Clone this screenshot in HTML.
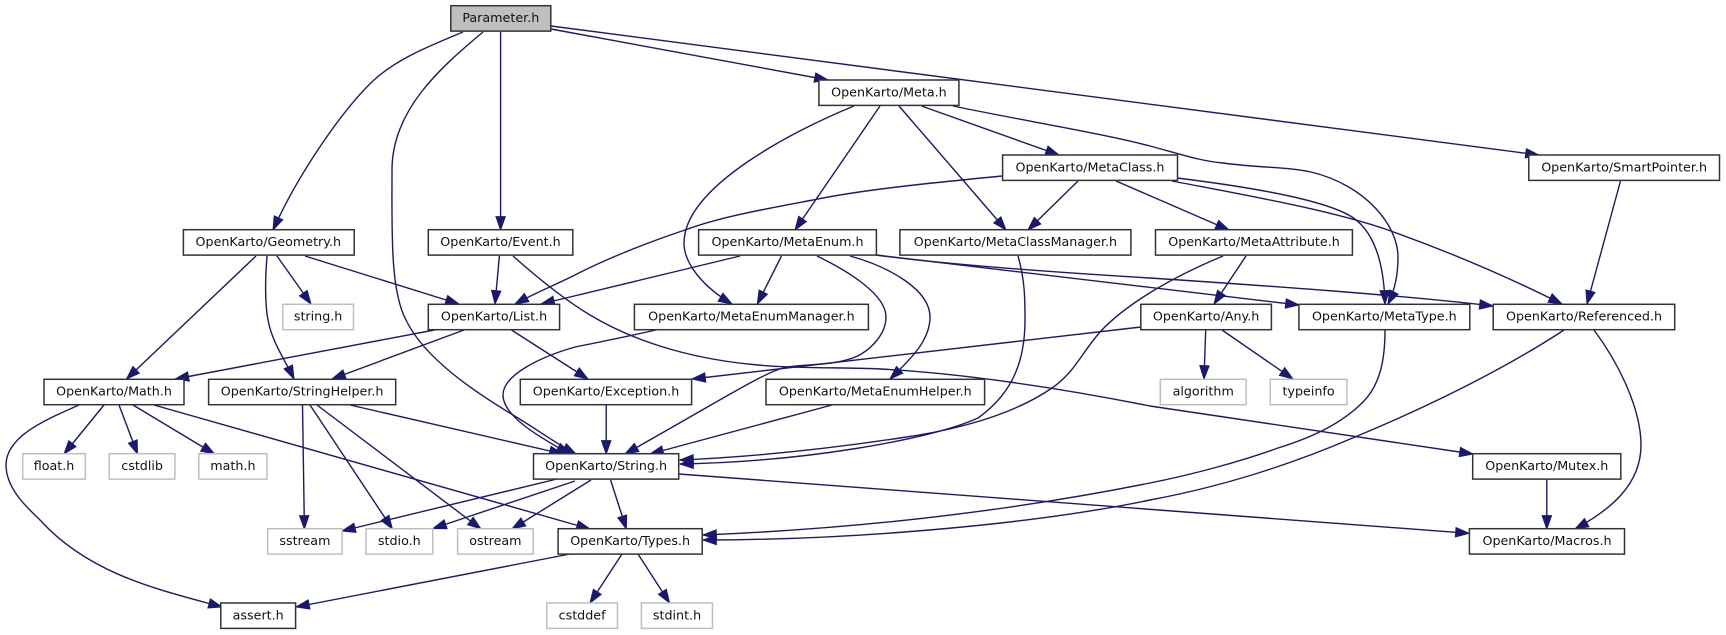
<!DOCTYPE html>
<html><head><meta charset="utf-8"><title>Parameter.h</title>
<style>html,body{margin:0;padding:0;background:#fff}svg{display:block;filter:blur(.3px)}
text{font-family:"DejaVu Sans",sans-serif;font-size:12.7px;text-anchor:middle;fill:#111;transform:translateY(-.7px)}
.e path{fill:none;stroke:#191970;stroke-width:1.4;marker-end:url(#a)}
.n rect{fill:#fff;stroke:#333;stroke-width:1.5}
.g rect{fill:#fff;stroke:#bfbfbf;stroke-width:1.5}
.r rect{fill:#bfbfbf;stroke:#333;stroke-width:1.5}
</style></head><body>
<svg width="1726" height="635" viewBox="0 0 1726 635" xmlns="http://www.w3.org/2000/svg">
<defs><marker id="a" markerUnits="userSpaceOnUse" markerWidth="16" markerHeight="12" refX="13.33" refY="5.5" orient="auto" overflow="visible"><polygon points="0,0.83 13.33,5.5 0,10.17" fill="#191970" stroke="#191970" stroke-width="1"/></marker></defs>
<g class="e">
<path d="M463,32 C432,45 398,58 374,80 C345,107 300,170 273,230"/>
<path d="M483,32 C440,68 392,110 392,170 C392,230 390,290 406,320 C425,360 480,395 513,415 C535,428 555,443 576,454"/>
<path d="M500.6,32 L500.6,230"/>
<path d="M551,29 L828,80"/>
<path d="M551,26 L1539,155"/>
<path d="M256,256 L126.5,379"/>
<path d="M267,256 C265,280 265,305 268,320 C272,342 285,360 294,379"/>
<path d="M277,256 L311,304"/>
<path d="M305,256 L459,304"/>
<path d="M499.4,256 L495,304"/>
<path d="M513,256 C540,280 565,300 590,315 C640,345 700,360 758,365 C800,369 850,367 880,369 C960,373 1060,388 1150,406 L1473,454"/>
<path d="M434.5,330 L175.3,379"/>
<path d="M464,330 L332,379"/>
<path d="M511.5,330 L588,379"/>
<path d="M854,106 C800,128 684,185 684,243 C684,265 705,288 732,304"/>
<path d="M880,106 L795,230"/>
<path d="M899,106 L1006,230"/>
<path d="M921.5,106 L1059,155"/>
<path d="M953,106 C1020,120 1100,133 1150,146 C1180,154 1200,161 1223,163 C1260,168 1290,167 1311,172 C1365,185 1398,225 1398,257 C1398,275 1395,290 1388,304"/>
<path d="M1002,176 C930,183 860,190 813,200 C760,210 720,217 685,230 C640,245 600,262 575,275 C555,285 535,293 515,304"/>
<path d="M1078,181 L1028,230"/>
<path d="M1116,181 L1229,230"/>
<path d="M1177,178 C1250,187 1325,200 1352,217 C1375,232 1384,265 1385,304"/>
<path d="M1172,181 C1250,196 1330,210 1388,230 C1450,252 1510,278 1562,304"/>
<path d="M1620.5,181 L1587,304"/>
<path d="M740,256 L541,304"/>
<path d="M781.5,256 L757.3,304"/>
<path d="M817,256 C850,272 886,295 886,317 C886,335 868,355 846,360 C820,367 795,363 777,370 C755,378 700,412 625,454"/>
<path d="M850,256 C890,267 930,290 930,317 C930,340 912,358 890,379"/>
<path d="M876,255 L1299,305"/>
<path d="M876,255 C950,265 1050,272 1150,278 C1270,286 1400,295 1493,306"/>
<path d="M1018,256 C1025,280 1025,300 1025,320 C1025,365 1010,395 978,418 C930,440 800,462 680,464"/>
<path d="M1223,256 C1170,278 1125,305 1100,332 C1080,355 1075,372 1052,388 C1020,410 970,428 900,438 C820,450 750,457 680,460"/>
<path d="M1246,256 L1214,304"/>
<path d="M1141,327 L692,379"/>
<path d="M1205.7,330 L1204,379"/>
<path d="M1222,330 L1293,379"/>
<path d="M656,330 C620,338 590,344 575,347 C540,357 503,375 503,395 C503,415 535,435 570,454"/>
<path d="M606.2,405 L606.2,454"/>
<path d="M832,405 L650,454"/>
<path d="M350,405 L563,454"/>
<path d="M302.5,405 L304.4,529"/>
<path d="M310,405 L392.4,529"/>
<path d="M317,405 L481,529"/>
<path d="M104,405 L64,454"/>
<path d="M119,405 L137.5,454"/>
<path d="M133,405 L214.5,454"/>
<path d="M154,405 L590,529"/>
<path d="M79,405 C50,418 6,435 6,465 C6,490 30,510 40,520 C90,575 160,590 222,607"/>
<path d="M557,479 L342,531"/>
<path d="M575,481 L433,528.5"/>
<path d="M591,480 L512,529"/>
<path d="M610.6,480 L626.3,529"/>
<path d="M679,474 L1469,533.3"/>
<path d="M570,554 L296,607"/>
<path d="M622,554 L590,603"/>
<path d="M638,554 L669.6,603"/>
<path d="M1385,330 C1385,360 1380,385 1363,402 C1340,425 1310,438 1278,448 C1240,462 1190,475 1150,483 C1050,503 900,527 703,535"/>
<path d="M1564,330 C1500,372 1420,410 1355,437 C1290,465 1220,487 1150,500 C1030,525 850,540 703,540"/>
<path d="M1594,330 C1620,365 1641,410 1641,445 C1641,485 1610,510 1575,529"/>
<path d="M1546.8,479 L1546.8,529"/>
</g>
<g class="r"><rect x="450.8" y="5.7" width="100" height="25.4"/><text x="500.8" y="22.7">Parameter.h</text></g>
<g class="n">
<rect x="818.9" y="80" width="140" height="25.4"/><text x="888.9" y="97">OpenKarto/Meta.h</text>
<rect x="1002.6" y="155" width="174.9" height="25.4"/><text x="1090" y="172">OpenKarto/MetaClass.h</text>
<rect x="1528.8" y="155" width="190.7" height="25.4"/><text x="1624.1" y="172">OpenKarto/SmartPointer.h</text>
<rect x="183.4" y="229.7" width="170.8" height="25.4"/><text x="268.3" y="246.7">OpenKarto/Geometry.h</text>
<rect x="428.3" y="229.7" width="144.5" height="25.4"/><text x="500.5" y="246.7">OpenKarto/Event.h</text>
<rect x="698.6" y="229.7" width="177.8" height="25.4"/><text x="787.5" y="246.7">OpenKarto/MetaEnum.h</text>
<rect x="899.9" y="229.7" width="231" height="25.4"/><text x="1015.4" y="246.7">OpenKarto/MetaClassManager.h</text>
<rect x="1155.5" y="229.7" width="196.9" height="25.4"/><text x="1254" y="246.7">OpenKarto/MetaAttribute.h</text>
<rect x="428.3" y="304.3" width="131.3" height="25.4"/><text x="494" y="321.3">OpenKarto/List.h</text>
<rect x="634.4" y="304.3" width="234" height="25.4"/><text x="751.4" y="321.3">OpenKarto/MetaEnumManager.h</text>
<rect x="1140.8" y="304.3" width="130.6" height="25.4"/><text x="1206.1" y="321.3">OpenKarto/Any.h</text>
<rect x="1298.9" y="304.3" width="170.9" height="25.4"/><text x="1384.3" y="321.3">OpenKarto/MetaType.h</text>
<rect x="1493.2" y="304.3" width="181.5" height="25.4"/><text x="1584" y="321.3">OpenKarto/Referenced.h</text>
<rect x="44" y="379.3" width="140" height="25.4"/><text x="114" y="396.3">OpenKarto/Math.h</text>
<rect x="208.6" y="379.3" width="187.1" height="25.4"/><text x="302.1" y="396.3">OpenKarto/StringHelper.h</text>
<rect x="520.3" y="379.3" width="171.3" height="25.4"/><text x="606" y="396.3">OpenKarto/Exception.h</text>
<rect x="766" y="379.3" width="218.6" height="25.4"/><text x="875.3" y="396.3">OpenKarto/MetaEnumHelper.h</text>
<rect x="533.5" y="453.7" width="145.2" height="25.4"/><text x="606.1" y="470.7">OpenKarto/String.h</text>
<rect x="1472.7" y="453.7" width="148.1" height="25.4"/><text x="1546.8" y="470.7">OpenKarto/Mutex.h</text>
<rect x="558.1" y="528.7" width="144.1" height="25.4"/><text x="630.1" y="545.7">OpenKarto/Types.h</text>
<rect x="1469.4" y="528.7" width="155.1" height="25.4"/><text x="1547" y="545.7">OpenKarto/Macros.h</text>
<rect x="220.8" y="603" width="74.8" height="25.4"/><text x="258.2" y="620">assert.h</text>
</g>
<g class="g">
<rect x="282.7" y="304.3" width="70.8" height="25.4"/><text x="318.1" y="321.3">string.h</text>
<rect x="1160.3" y="379.3" width="85.8" height="25.4"/><text x="1203.2" y="396.3">algorithm</text>
<rect x="1270.3" y="379.3" width="76.6" height="25.4"/><text x="1308.6" y="396.3">typeinfo</text>
<rect x="22.7" y="453.7" width="62.7" height="25.4"/><text x="54" y="470.7">float.h</text>
<rect x="109.3" y="453.7" width="65.6" height="25.4"/><text x="142.1" y="470.7">cstdlib</text>
<rect x="198.8" y="453.7" width="68.2" height="25.4"/><text x="232.9" y="470.7">math.h</text>
<rect x="267.7" y="528.7" width="74.4" height="25.4"/><text x="304.9" y="545.7">sstream</text>
<rect x="366" y="528.7" width="66.7" height="25.4"/><text x="399.3" y="545.7">stdio.h</text>
<rect x="457.6" y="528.7" width="75.6" height="25.4"/><text x="495.4" y="545.7">ostream</text>
<rect x="546.7" y="603" width="70.8" height="25.4"/><text x="582.1" y="620">cstddef</text>
<rect x="641.4" y="603" width="71.1" height="25.4"/><text x="677" y="620">stdint.h</text>
</g>
</svg>
</body></html>
